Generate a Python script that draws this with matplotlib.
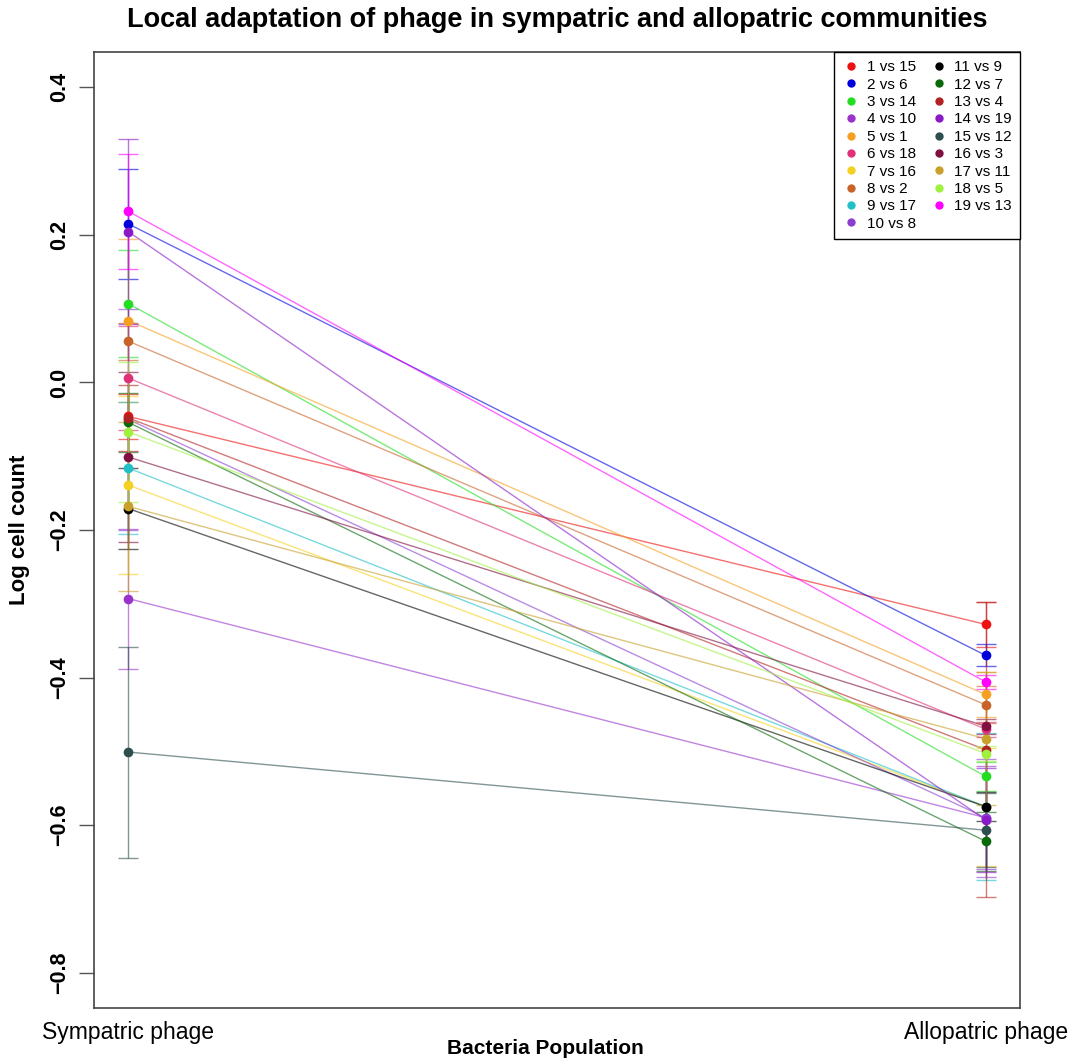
import matplotlib
matplotlib.use("Agg")
import matplotlib.pyplot as plt
from matplotlib.lines import Line2D

plt.rcParams['font.family'] = ['Liberation Sans', 'DejaVu Sans']

labels = ["1 vs 15", "2 vs 6", "3 vs 14", "4 vs 10", "5 vs 1", "6 vs 18", "7 vs 16",
          "8 vs 2", "9 vs 17", "10 vs 8", "11 vs 9", "12 vs 7", "13 vs 4", "14 vs 19",
          "15 vs 12", "16 vs 3", "17 vs 11", "18 vs 5", "19 vs 13"]
colors = ["#EE1111", "#0000DD", "#22DD22", "#9933CC", "#F5A020", "#E0307A", "#F5D020",
          "#C8642A", "#20C0C8", "#8B3FD0", "#000000", "#0A6A0A", "#B22222", "#8A1AC8",
          "#2F4F4F", "#801040", "#C8A02A", "#A0F040", "#FF00FF"]
sympatric = [-0.046, 0.215, 0.107, -0.293, 0.084, 0.006, -0.139, 0.056, -0.116, -0.050,
             -0.171, -0.054, -0.048, 0.2045, -0.501, -0.101, -0.168, -0.067, 0.232]
sympatric_se = [0.030, 0.075, 0.072, 0.095, 0.110, 0.070, 0.120, 0.025, 0.090, 0.150,
                0.055, 0.040, 0.045, 0.125, 0.143, 0.115, 0.115, 0.095, 0.078]
allopatric = [-0.328, -0.370, -0.534, -0.590, -0.423, -0.470, -0.575, -0.437, -0.575, -0.590,
              -0.575, -0.622, -0.498, -0.593, -0.607, -0.466, -0.483, -0.503, -0.406]
allopatric_se = [0.030, 0.015, 0.020, 0.070, 0.030, 0.010, 0.080, 0.025, 0.100, 0.080,
                 0.020, 0.040, 0.200, 0.070, 0.050, 0.010, 0.090, 0.010, 0.010]
xticklabels = ["Sympatric phage", "Allopatric phage"]
yticks = [-0.8, -0.6, -0.4, -0.2, 0.0, 0.2, 0.4]

fig = plt.figure(figsize=(10.74, 10.62), dpi=100)
ax = fig.add_axes([94/1074, 1-1008/1062, (1020-94)/1074, (1008-52)/1062])

xs = [1, 2]
for i in range(len(labels)):
    c = colors[i]
    ys = [sympatric[i], allopatric[i]]
    ax.plot(xs, ys, color=c, lw=1.0, alpha=0.6, zorder=2)
    ax.errorbar(xs, ys, yerr=[sympatric_se[i], allopatric_se[i]], fmt='none',
                ecolor=c, elinewidth=1.0, capsize=7, capthick=1.0, alpha=0.6, zorder=3)
    ax.plot(xs, ys, 'o', color=c, ms=7, mec='none', zorder=4)

ax.set_xlim(0.96, 2.04)
ax.set_ylim(-0.848, 0.448)
ax.set_xticks([1, 2])
ax.set_xticklabels(xticklabels, fontsize=16.5)
ax.tick_params(axis='x', length=0, pad=9)
ax.set_yticks(yticks)
ax.set_yticklabels([f"{v:.1f}".replace("-", "\u2212") for v in yticks],
                   rotation=90, va='center', fontsize=15.5, fontweight='bold')
ax.tick_params(axis='y', length=11, width=1, color='#555555', pad=6)
for s in ax.spines.values():
    s.set_color('#444444')
    s.set_linewidth(1.2)

fig.text(20/1074, 1-530/1062, "Log cell count", rotation=90, ha='center', va='center',
         fontsize=16, fontweight='bold')
fig.text(545/1074, 1-1048/1062, "Bacteria Population", ha='center', va='center',
         fontsize=15, fontweight='bold')
fig.text(557/1074, 1-20/1062, "Local adaptation of phage in sympatric and allopatric communities",
         ha='center', va='center', fontsize=19.5, fontweight='bold')

handles = [Line2D([], [], marker='o', ls='none', color=c, ms=6, mec='none') for c in colors]
leg = ax.legend(handles, labels, ncol=2, loc='upper right', fontsize=11,
                frameon=True, fancybox=False, edgecolor='black', framealpha=1,
                borderaxespad=0, handletextpad=0.4, columnspacing=0.9,
                labelspacing=0.22, handlelength=1.2, borderpad=0.55)
leg.get_frame().set_linewidth(1.0)

fig.savefig("out.png", dpi=100, facecolor='white')
